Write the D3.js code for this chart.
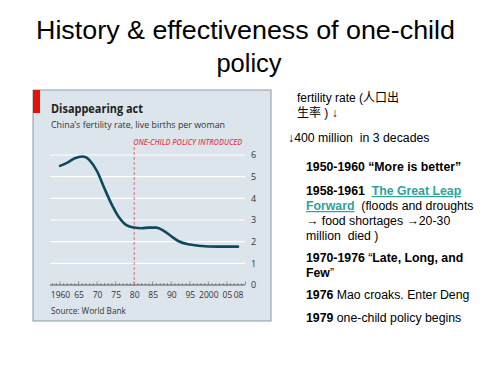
<!DOCTYPE html>
<html>
<head>
<meta charset="utf-8">
<script src="https://cdn.jsdelivr.net/npm/d3@7"></script>
<style>
  body { margin: 0; background: #fff; }
  svg { display: block; }
  text { white-space: pre; }
</style>
</head>
<body>
<div id="chart"></div>
<script>
// fertility rate, live births per woman
var years = [1960, 1962, 1964, 1966, 1967, 1968, 1970, 1972, 1974, 1976, 1978, 1980,
  1982, 1984, 1986, 1988, 1990, 1992, 1995, 2000, 2005, 2008];
var fertility = [5.5, 5.65, 5.85, 5.93, 5.9, 5.75, 5.25, 4.45, 3.7, 3.1, 2.75, 2.65,
  2.62, 2.65, 2.65, 2.5, 2.25, 2.02, 1.87, 1.78, 1.77, 1.77];
var yTicks = [0, 1, 2, 3, 4, 5, 6];
var xLabelYears = [1960, 1965, 1970, 1975, 1980, 1985, 1990, 1995, 2000, 2005, 2008];
var xLabels = ["1960", "65", "70", "75", "80", "85", "90", "95", "2000", "05", "08"];
var policyYear = 1980;

var notes = [
  { x: 297, y: 102, size: 12, parts: [{ t: "fertility rate (人口出" }] },
  { x: 297, y: 117, size: 12, parts: [{ t: "生率 ) ↓" }] },
  { x: 288, y: 142, size: 12.3, parts: [{ t: "↓400 million  in 3 decades" }] },
  { x: 306, y: 171, size: 12.3, parts: [{ t: "1950-1960 “More is better”", b: true }] },
  { x: 306, y: 195, size: 12.3, parts: [{ t: "1958-1961  ", b: true }, { t: "The Great Leap", b: true, link: true }] },
  { x: 306, y: 210, size: 12.3, parts: [{ t: "Forward", b: true, link: true }, { t: "  (floods and droughts" }] },
  { x: 306, y: 225, size: 12.3, parts: [{ t: "→ food shortages →20-30" }] },
  { x: 306, y: 240, size: 12.3, parts: [{ t: "million  died )" }] },
  { x: 306, y: 262, size: 12.3, parts: [{ t: "1970-1976 ", b: true }, { t: "\u201C" }, { t: "Late, Long, and", b: true }] },
  { x: 306, y: 277, size: 12.3, parts: [{ t: "Few", b: true }, { t: "\u201D" }] },
  { x: 306, y: 299, size: 12.3, parts: [{ t: "1976", b: true }, { t: " Mao croaks. Enter Deng" }] },
  { x: 306, y: 322, size: 12.3, parts: [{ t: "1979", b: true }, { t: " one-child policy begins" }] }
];

var W = 500, H = 375;
var svg = d3.select("#chart").append("svg")
  .attr("width", W).attr("height", H);

var sans = "'Liberation Sans', Arial, sans-serif";
var ecoFont = "'Open Sans', 'Noto Sans', sans-serif";

// slide title
svg.append("text")
  .attr("x", 36).attr("y", 39)
  .attr("textLength", 419).attr("lengthAdjust", "spacingAndGlyphs")
  .style("font-family", sans).style("font-size", "26px").style("fill", "#000")
  .text("History & effectiveness of one-child");
svg.append("text")
  .attr("x", 249).attr("y", 72)
  .attr("text-anchor", "middle")
  .style("font-family", sans).style("font-size", "25.5px").style("fill", "#000")
  .text("policy");

// chart panel
svg.append("rect")
  .attr("x", 33).attr("y", 90).attr("width", 238).attr("height", 231)
  .style("fill", "#dce5ec").style("stroke", "#8c9aa4").style("stroke-width", 1);
svg.append("rect")
  .attr("x", 33).attr("y", 90).attr("width", 7).attr("height", 23)
  .style("fill", "#e3120b");

svg.append("text")
  .attr("x", 51).attr("y", 113)
  .attr("textLength", 92).attr("lengthAdjust", "spacingAndGlyphs")
  .style("font-family", ecoFont).style("font-weight", "bold")
  .style("font-size", "12.5px").style("fill", "#222")
  .text("Disappearing act");
svg.append("text")
  .attr("x", 51).attr("y", 127.5)
  .attr("textLength", 174).attr("lengthAdjust", "spacingAndGlyphs")
  .style("font-family", ecoFont).style("font-size", "9px").style("fill", "#333")
  .text("China\u2019s fertility rate, live births per woman");

var x = d3.scaleLinear().domain([1960, 2008]).range([60, 238]);
var y = d3.scaleLinear().domain([0, 6]).range([285, 155]);

// gridlines
svg.append("g")
  .selectAll("line")
  .data(yTicks.filter(function (d) { return d > 0; }))
  .enter()
  .append("line")
  .attr("x1", 50).attr("x2", 245)
  .attr("y1", function (d) { return y(d); })
  .attr("y2", function (d) { return y(d); })
  .style("stroke", "#fff").style("stroke-width", 1.2);

// right axis labels
var yAxis = d3.axisRight(y).tickValues(yTicks).tickSize(0).tickPadding(6)
  .tickFormat(d3.format("d"));
var gy = svg.append("g").attr("transform", "translate(245,0)").call(yAxis);
gy.select(".domain").remove();
gy.selectAll("text")
  .style("font-family", ecoFont).style("font-size", "9px").style("fill", "#333");

// x axis baseline with yearly ticks
var allYears = d3.range(1958, 2011);
var gx = svg.append("g").attr("transform", "translate(0,285)");
gx.append("line")
  .attr("x1", 50).attr("x2", 245)
  .style("stroke", "#555").style("stroke-width", 1);
gx.selectAll(".tk")
  .data(allYears)
  .enter()
  .append("line")
  .attr("class", "tk")
  .attr("x1", function (d) { return x(d); })
  .attr("x2", function (d) { return x(d); })
  .attr("y1", 0)
  .attr("y2", function (d) { return d % 5 === 0 ? -3.5 : -2; })
  .style("stroke", "#555").style("stroke-width", 0.6);

var xAxis = d3.axisBottom(x).tickValues(xLabelYears).tickSize(0).tickPadding(7)
  .tickFormat(function (d, i) { return xLabels[i]; });
var gxl = svg.append("g").attr("transform", "translate(0,285)").call(xAxis);
gxl.select(".domain").remove();
gxl.selectAll("text")
  .style("font-family", ecoFont).style("font-size", "8.5px").style("fill", "#333");

// policy marker
svg.append("line")
  .attr("x1", x(policyYear)).attr("x2", x(policyYear))
  .attr("y1", 147).attr("y2", y(0))
  .style("stroke", "#e04a5a").style("stroke-width", 0.8)
  .style("stroke-dasharray", "3,2");
svg.append("text")
  .attr("x", x(policyYear) - 1).attr("y", 144.5)
  .attr("textLength", 109).attr("lengthAdjust", "spacingAndGlyphs")
  .style("font-family", ecoFont).style("font-style", "italic")
  .style("font-weight", 600)
  .style("font-size", "8.5px").style("fill", "#e04a5a")
  .text("ONE-CHILD POLICY INTRODUCED");

// fertility line
var line = d3.line()
  .x(function (d, i) { return x(years[i]); })
  .y(function (d) { return y(d); })
  .curve(d3.curveMonotoneX);
svg.append("path")
  .datum(fertility)
  .attr("d", line)
  .style("fill", "none").style("stroke", "#0d4b5c")
  .style("stroke-width", 2.6).style("stroke-linecap", "round");

svg.append("text")
  .attr("x", 51).attr("y", 314)
  .style("font-family", ecoFont).style("font-size", "8.2px").style("fill", "#333")
  .text("Source: World Bank");

// notes on the right
notes.forEach(function (n) {
  var t = svg.append("text")
    .attr("x", n.x).attr("y", n.y)
    .style("font-family", sans + ", 'Noto Sans CJK SC'")
    .style("font-size", n.size + "px").style("fill", "#000");
  n.parts.forEach(function (p) {
    var s = t.append("tspan").text(p.t)
      .style("font-weight", p.b ? "bold" : "normal");
    if (p.link) {
      s.style("fill", "#2fa39a").style("text-decoration", "underline");
    }
  });
});
</script>
</body>
</html>
